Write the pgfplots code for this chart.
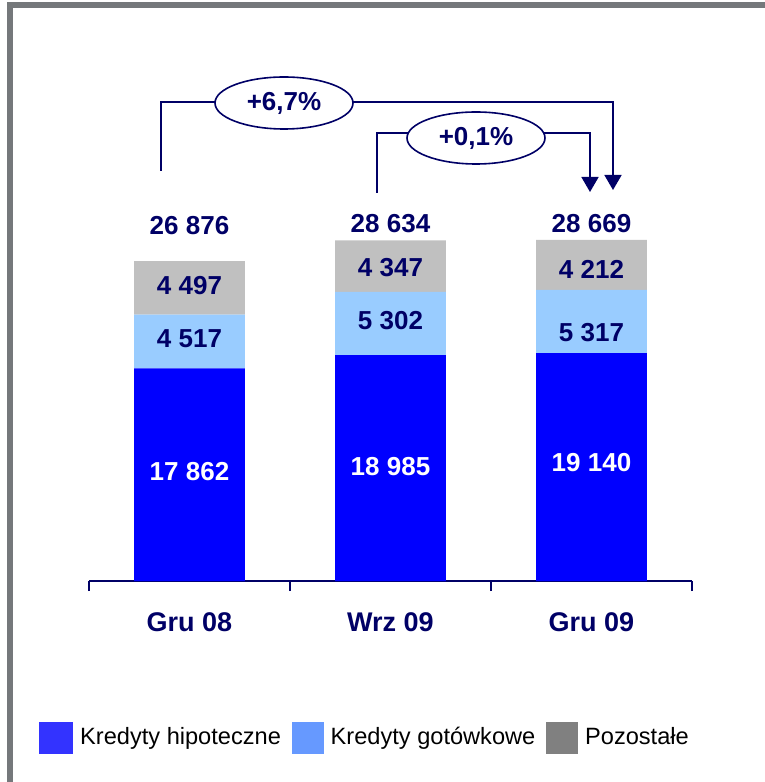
\documentclass[border=0pt]{standalone}
\usepackage{fontspec}
\setmainfont{Liberation Sans}
\usepackage{pgfplots}
\pgfplotsset{compat=1.18}
\usetikzlibrary{arrows.meta, shapes.geometric}
\definecolor{navy}{HTML}{000066}
\definecolor{barblue}{HTML}{0000FF}
\definecolor{barlight}{HTML}{99CCFF}
\definecolor{bargrey}{HTML}{C0C0C0}
\definecolor{legblue}{HTML}{3333FF}
\definecolor{leglight}{HTML}{6699FF}
\definecolor{leggrey}{HTML}{808080}
\definecolor{framegrey}{HTML}{75787B}
\newcommand{\lbl}{\bfseries\fontsize{13}{15}\selectfont}

\begin{document}
\begin{tikzpicture}
\useasboundingbox (0,0) rectangle (382.5pt,391pt);
\draw[framegrey, line width=3pt] (5pt,-5pt) -- (5pt,388.5pt) -- (395pt,388.5pt);

\begin{axis}[
  at={(44.5pt,100.5pt)}, anchor=south west,
  scale only axis, width=301.5pt, height=261.8pt,
  xmin=-0.5, xmax=2.5, ymin=0, ymax=44000,
  ybar stacked, bar width=0.552,
  hide y axis, axis x line*=bottom,
  x axis line style={navy, line width=0.8pt},
  xtick={0,1,2}, xticklabels={Gru 08,Wrz 09,Gru 09},
  major tick length=0pt,
  minor xtick={-0.5,0.5,1.5,2.5}, minor tick length=5pt,
  tick align=outside, minor tick style={navy, line width=0.8pt},
  xticklabel style={font=\bfseries\fontsize{13.5}{16}\selectfont, text=navy,
                    anchor=base, yshift=-25pt},
  clip=false,
  legend columns=3,
  legend style={at={(-0.0829,-0.2989)}, anchor=west, draw=none, fill=none,
                inner sep=0pt, font=\fontsize{11.8}{14}\selectfont,
                /tikz/every even column/.append style={column sep=3.5pt}},
]
% Kredyty hipoteczne / gotowkowe / pozostale
\addplot[fill=barblue, draw=none, forget plot] coordinates {(0,17862) (1,18985) (2,19140)};
\addplot[fill=barlight, draw=none, forget plot] coordinates {(0,4517) (1,5302) (2,5317)};
\addplot[fill=bargrey, draw=none, forget plot] coordinates {(0,4497) (1,4347) (2,4212)};

\addlegendimage{legend image code/.code={\fill[legblue] (0pt,-7.75pt) rectangle (16.5pt,7.75pt);}}
\addlegendentry{\hspace{1.5pt}Kredyty hipoteczne}
\addlegendimage{legend image code/.code={\fill[leglight] (0pt,-7.75pt) rectangle (15.5pt,7.75pt);}}
\addlegendentry{\hspace{1.5pt}Kredyty gotówkowe}
\addlegendimage{legend image code/.code={\fill[leggrey] (0pt,-7.75pt) rectangle (15.5pt,7.75pt);}}
\addlegendentry{\hspace{1.5pt}Pozostałe}

% label anchors
\coordinate (t0) at (axis cs:0,29830);
\coordinate (t1) at (axis cs:1,30000);
\coordinate (t2) at (axis cs:2,30000);
\coordinate (b0) at (axis cs:0,9160);
\coordinate (b1) at (axis cs:1,9580);
\coordinate (b2) at (axis cs:2,9916);
\coordinate (l0) at (axis cs:0,20336);
\coordinate (l1) at (axis cs:1,21849);
\coordinate (l2) at (axis cs:2,20840);
\coordinate (g0) at (axis cs:0,24790);
\coordinate (g1) at (axis cs:1,26303);
\coordinate (g2) at (axis cs:2,26218);
\end{axis}

\begin{scope}[font=\lbl, text=navy]
\node at (t0) {26 876};
\node at (t1) {28 634};
\node at (t2) {28 669};
\node[text=white] at (b0) {17 862};
\node[text=white] at (b1) {18 985};
\node[text=white] at (b2) {19 140};
\node at (l0) {4 517};
\node at (l1) {5 302};
\node at (l2) {5 317};
\node at (g0) {4 497};
\node at (g1) {4 347};
\node at (g2) {4 212};
\end{scope}

\begin{scope}[navy, line width=0.8pt]
\draw[-{Triangle[width=8.5pt,length=7.5pt]}] (80.5pt,305.5pt) |- (306.5pt,340pt) -- (306.5pt,296pt);
\draw[-{Triangle[width=8.5pt,length=7.5pt]}] (188.5pt,294.5pt) |- (295pt,324.5pt) -- (295pt,295pt);
\node[ellipse, draw, fill=white, minimum width=69pt, minimum height=26pt, inner sep=0pt,
      font=\lbl] at (142pt,339.5pt) {+6,7\%};
\node[ellipse, draw, fill=white, minimum width=69pt, minimum height=26pt, inner sep=0pt,
      font=\lbl] at (238pt,322pt) {+0,1\%};
\end{scope}
\end{tikzpicture}
\end{document}
